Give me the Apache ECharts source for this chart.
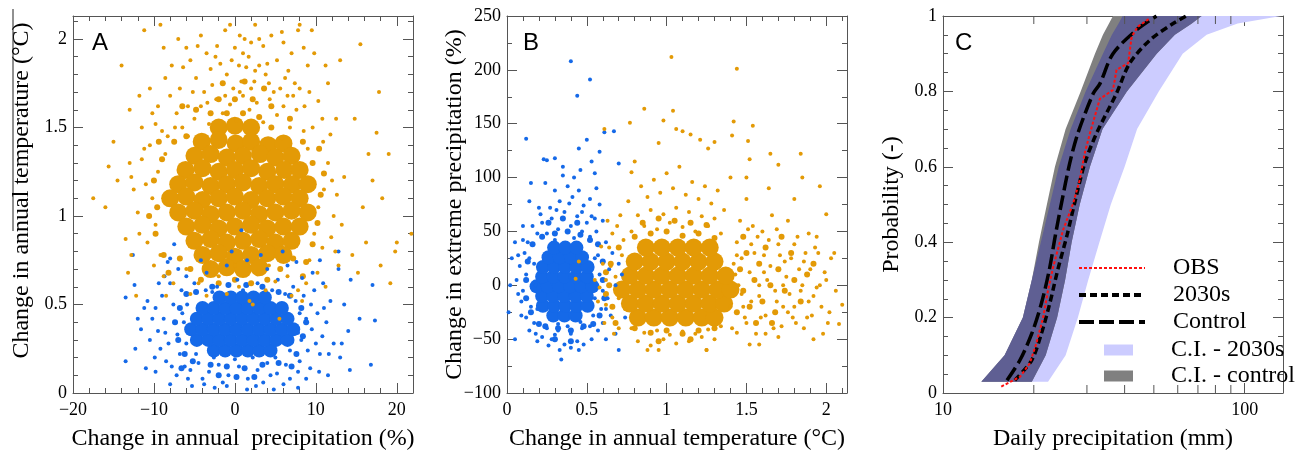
<!DOCTYPE html>
<html>
<head>
<meta charset="utf-8">
<script src="https://cdn.jsdelivr.net/npm/echarts@6/dist/echarts.min.js"></script>
<style>
  html, body { margin: 0; padding: 0; background: #fff; }
  #chart { width: 1301px; height: 452px; }
</style>
</head>
<body>
<div id="chart"></div>
<script>
// ---- panel A: precipitation change (%) vs temperature change (°C) ----
const aBlueCore = [
  [-2.6,0.24],[-1.2,0.24],[0.2,0.24],[1.6,0.24],[3.0,0.24],[4.4,0.24],
  [-4.7,0.30],[-3.3,0.30],[-1.9,0.30],[-0.5,0.30],[0.9,0.30],[2.3,0.30],[3.7,0.30],[5.1,0.30],[6.5,0.30],
  [-5.4,0.36],[-4.0,0.36],[-2.6,0.36],[-1.2,0.36],[0.2,0.36],[1.6,0.36],[3.0,0.36],[4.4,0.36],[5.8,0.36],[7.2,0.36],
  [-4.7,0.42],[-3.3,0.42],[-1.9,0.42],[-0.5,0.42],[0.9,0.42],[2.3,0.42],[3.7,0.42],[5.1,0.42],[6.5,0.42],
  [-4.0,0.48],[-2.6,0.48],[-1.2,0.48],[0.2,0.48],[1.6,0.48],[3.0,0.48],[4.4,0.48],[5.8,0.48],
  [-1.9,0.54],[-0.5,0.54],[0.9,0.54],[2.3,0.54],[3.7,0.54]
];
const aBlueMid = [
  [-7.0,0.30],[-7.4,0.40],[-6.8,0.48],[-6.2,0.22],[8.4,0.32],[8.8,0.40],[8.2,0.48],[7.6,0.22],[-5.2,0.18],[-3.0,0.16],
  [-1.0,0.15],[1.2,0.14],[3.4,0.16],[5.4,0.17],[-4.8,0.57],[-2.8,0.60],[-0.8,0.61],[1.4,0.61],[3.4,0.60],[5.4,0.57],
  [6.8,0.55],[-6.0,0.56],[7.0,0.15],[-6.6,0.14],[0.2,0.09],[-2.0,0.10],[2.4,0.09]
];
const aBlueDots = [
  [-9.5,0.35],[-8.8,0.42],[-8.2,0.28],[-7.6,0.50],[-7.1,0.33],[-6.8,0.22],[-9.0,0.55],[-8.0,0.62],[-7.3,0.40],[-6.6,0.58],
  [-9.8,0.48],[-8.5,0.18],[-7.8,0.15],[-6.5,0.45],[-7.0,0.70],[-10.5,0.30],[-10.2,0.42],[-6.2,0.15],[-8.7,0.66],
  [8.2,0.30],[8.8,0.42],[9.5,0.36],[9.0,0.24],[10.2,0.45],[8.5,0.55],[9.8,0.58],[10.8,0.32],[11.3,0.40],[8.0,0.18],
  [9.3,0.14],[10.5,0.22],[11.8,0.52],[8.3,0.65],[9.6,0.68],[10.9,0.62],[12.2,0.28],[7.8,0.12],
  [-4.5,0.17],[-3.2,0.12],[-2.0,0.16],[-0.8,0.10],[0.5,0.15],[1.6,0.08],[2.8,0.13],[4.0,0.17],[5.2,0.11],[6.3,0.16],
  [-5.5,0.13],[-1.5,0.06],[3.5,0.06],[6.8,0.08],[0.0,0.19],[-2.6,0.20],[2.2,0.20],[5.0,0.20],[-4.0,0.08],
  [-5.0,0.62],[-3.5,0.68],[-2.2,0.60],[-1.0,0.72],[0.3,0.64],[1.5,0.75],[2.8,0.62],[4.0,0.70],[5.3,0.64],[6.5,0.72],
  [7.2,0.60],[-4.2,0.75],[-0.4,0.80],[3.2,0.78],[5.9,0.80],[-6.0,0.66],[1.0,0.58],[-2.8,0.57],[4.6,0.58],
  [-6.0,0.28],[-6.3,0.40],[-5.9,0.50],[7.8,0.34],[8.0,0.45],[7.5,0.52],[6.8,0.24],[-4.8,0.22],[-3.6,0.58],[6.2,0.56],
  [-9.2,0.25],[-8.6,0.34],[-9.9,0.20],[-10.8,0.52],[-9.4,0.62],[9.4,0.50],[10.0,0.28],[11.0,0.48],[10.4,0.12],[11.6,0.22],
  [-7.2,0.10],[-5.8,0.08],[4.4,0.10],[6.0,0.05],[8.8,0.08],[-3.8,0.05],[2.6,0.04],[-1.0,0.04],[-8.0,0.76],[7.6,0.74],
  [-13.5,0.54],[-13.5,0.18],[-12.3,0.25],[-12.4,0.61],[-12.6,0.78],[-11.6,0.36],[-11.2,0.48],[-11.0,0.14],[-12.0,0.42],
  [17.0,0.61],[17.3,0.41],[16.8,0.16],[14.2,0.13],[15.4,0.42],[14.3,0.64],[13.5,0.50],[13.2,0.28],[14.0,0.35],
  [12.8,0.70],[13.0,0.20],[1.5,0.02],[-2.5,0.03],[7.8,0.03],[-8.0,0.05],[4.8,0.02],[-5.3,0.04],[11.5,0.10],
  [-9.8,0.12],[12.8,0.80],[-8.3,0.74],[-7.5,0.84],[0.8,0.92],[10.5,0.75]
];
const aOrangeCore = [
  [-2.0,1.50],[0.0,1.51],[2.0,1.50],
  [-4.1,1.42],[-2.0,1.43],[0.1,1.41],[2.0,1.42],[4.1,1.40],[6.0,1.41],
  [-5.0,1.34],[-3.0,1.35],[-1.0,1.33],[1.0,1.34],[3.1,1.35],[5.0,1.33],[7.0,1.34],
  [-6.1,1.26],[-4.0,1.27],[-2.0,1.25],[0.0,1.26],[2.0,1.27],[4.0,1.25],[6.1,1.26],[8.0,1.26],
  [-7.0,1.18],[-5.0,1.19],[-3.0,1.17],[-1.0,1.18],[1.0,1.19],[3.0,1.17],[5.0,1.18],[7.1,1.18],[9.0,1.18],
  [-8.0,1.10],[-6.0,1.11],[-4.0,1.09],[-2.0,1.10],[0.0,1.11],[2.0,1.09],[4.0,1.10],[6.0,1.11],[8.0,1.10],
  [-7.0,1.02],[-5.0,1.03],[-3.0,1.01],[-1.0,1.02],[1.0,1.03],[3.0,1.01],[5.0,1.02],[7.0,1.03],[9.0,1.02],
  [-6.0,0.94],[-4.0,0.95],[-2.0,0.93],[0.0,0.94],[2.0,0.95],[4.0,0.93],[6.0,0.94],[8.0,0.94],
  [-5.0,0.86],[-3.0,0.87],[-1.0,0.85],[1.0,0.86],[3.0,0.87],[5.0,0.85],[7.0,0.86],
  [-4.0,0.78],[-2.0,0.79],[0.0,0.77],[2.0,0.78],[4.0,0.79],[6.0,0.78],
  [-3.0,0.70],[-1.0,0.71],[1.0,0.70],[3.0,0.71]
];
const aOrangeMid = [
  [-10.0,1.20],[-9.6,1.05],[-9.8,0.90],[-9.0,1.32],[-8.8,0.78],[-10.6,1.00],[-8.2,0.68],[-7.5,1.42],[-9.4,1.42],
  [10.6,1.12],[10.2,0.96],[9.6,0.84],[9.6,1.30],[8.8,0.74],[11.0,1.24],[8.4,0.66],[8.4,1.42],[10.4,1.38],
  [-6.0,1.45],[-3.0,1.58],[-1.0,1.58],[1.0,1.58],[3.0,1.56],[4.5,1.50],[-4.8,1.60],[-2.0,1.66],[0.0,1.66],[2.2,1.66],
  [4.5,1.62],[6.8,1.55],[-6.5,1.62],[1.2,1.76],[-1.5,1.75],[3.6,1.72],
  [-5.5,0.70],[-4.2,0.64],[-2.0,0.62],[0.0,0.64],[2.0,0.62],[4.0,0.64],[5.6,0.70],[7.2,0.76],[-6.8,0.76]
];
const aOrangeDots = [
  [-9.5,1.25],[-10.2,1.10],[-9.8,0.95],[-11.0,1.18],[-10.8,0.85],[-9.2,0.78],[-8.6,1.35],[-11.5,1.32],[-12.0,1.02],[-8.8,0.66],
  [-10.0,0.72],[-9.0,1.48],[-11.8,0.90],[-12.5,1.15],[-8.3,1.45],[-13.0,1.30],[-10.5,1.40],[-12.8,0.78],[-7.6,0.62],[-8.5,0.55],
  [9.5,1.20],[10.3,1.05],[9.8,0.90],[11.0,1.15],[10.8,0.82],[9.2,0.75],[9.0,1.38],[11.5,1.30],[12.2,1.00],[8.8,0.62],
  [10.2,0.68],[9.6,1.50],[11.9,0.88],[12.6,1.12],[8.5,1.48],[13.2,0.95],[10.9,1.42],[12.8,0.72],[7.8,0.58],[8.3,0.52],[13.5,1.22],[11.2,0.60],
  [-6.5,1.50],[-5.0,1.55],[-3.2,1.52],[-1.5,1.58],[0.2,1.54],[1.8,1.60],[3.5,1.53],[5.2,1.57],[6.8,1.50],[-7.2,1.58],
  [-4.2,1.62],[-2.3,1.66],[-0.6,1.63],[1.0,1.68],[2.7,1.64],[4.3,1.66],[6.0,1.62],[7.6,1.60],[-5.8,1.45],[5.8,1.44],
  [-6.8,1.72],[-4.8,1.78],[-2.8,1.74],[-1.0,1.80],[0.8,1.76],[2.5,1.82],[4.2,1.75],[6.2,1.78],[8.0,1.72],[-5.5,1.88],
  [-3.5,1.92],[-1.8,1.86],[0.0,1.95],[1.7,1.90],[3.5,1.96],[5.2,1.88],[7.0,1.92],[9.0,1.85],[-7.8,1.85],[-4.2,2.02],
  [-1.2,2.05],[1.2,2.00],[2.5,2.08],[4.5,2.02],[7.8,2.05],[-8.8,1.95],[-10.5,1.72],[10.3,1.65],[-9.5,1.62],[11.5,1.75],
  [0.5,1.85],[-3.0,1.83],[3.0,1.85],[6.5,1.68],[-6.0,1.95],[8.5,1.95],[2.0,1.72],[-0.2,1.72],
  [-8.0,1.68],[-5.2,1.70],[-3.8,1.70],[-0.4,1.88],[1.4,1.84],[4.0,1.86],[5.6,1.72],[7.2,1.68],[9.2,1.70],[-2.2,1.96],
  [0.6,2.02],[3.0,2.00],[6.0,1.98],[-7.0,2.00],[-9.8,1.52],[-11.2,1.38],[11.8,1.46],[12.0,1.20],[-12.8,1.22],[12.4,0.80],
  [-5.8,1.62],[-3.4,1.64],[-1.2,1.68],[0.6,1.70],[2.4,1.76],[4.8,1.70],[6.6,1.82],[8.6,1.62],[-7.4,1.50],[-8.6,1.78],
  [-6.4,1.84],[-2.4,1.90],[1.0,1.92],[3.8,1.80],[5.8,2.04],[-4.6,1.96],[-0.6,2.08],[2.0,1.98],[7.4,1.75],[9.8,1.92],
  [10.8,1.55],[-10.2,1.58],[-11.8,1.68],[11.2,1.85],[-9.2,2.08],
  [-11.2,2.05],[-14.0,1.85],[-15.0,1.42],[-16.0,1.05],[-17.5,1.10],[-13.5,0.87],[-12.2,0.55],[-13.0,1.60],[-14.5,1.20],
  [-15.6,1.28],[-11.5,1.50],[15.5,1.97],[17.8,1.70],[17.5,1.47],[16.5,1.35],[19.0,1.35],[18.2,1.10],[17.0,1.20],
  [19.8,0.80],[19.2,0.62],[18.0,0.72],[20.0,0.85],[21.8,0.90],[14.5,0.78],[15.8,1.05],[16.2,0.85],[14.8,1.55],
  [13.0,1.88],[12.5,1.55],[15.2,0.68],[9.5,2.05],[8.0,2.08],[-13.2,0.68],
  [-4.5,0.62],[-2.0,0.66],[0.5,0.60],[2.8,0.67],[5.0,0.63],[6.5,0.66],[-6.0,0.70],[-1.0,0.56],[1.8,0.52],[3.8,0.58],
  [5.5,0.42],[2.2,0.50],[-3.5,0.55],[7.0,0.55],[-5.5,0.56],[0.0,0.72],[4.2,0.72],[-2.8,0.72]
];

// ---- panel B: temperature change (°C) vs extreme precipitation change (%) ----
const bBlueCore = [
  [0.29,-28],[0.36,-28],[0.43,-28],
  [0.225,-19],[0.295,-19],[0.365,-19],[0.435,-19],[0.505,-19],
  [0.22,-10],[0.29,-10],[0.36,-10],[0.43,-10],[0.50,-10],
  [0.185,-1],[0.255,-1],[0.325,-1],[0.395,-1],[0.465,-1],[0.535,-1],
  [0.22,8],[0.29,8],[0.36,8],[0.43,8],[0.50,8],
  [0.225,17],[0.295,17],[0.365,17],[0.435,17],[0.505,17],
  [0.26,26],[0.33,26],[0.40,26],[0.47,26],
  [0.295,35],[0.365,35],[0.435,35]
];
const bBlueMid = [
  [0.12,5],[0.12,-12],[0.13,22],[0.15,-25],[0.16,38],[0.60,5],[0.61,-12],[0.60,22],[0.58,-28],[0.57,38],
  [0.22,45],[0.30,48],[0.38,50],[0.46,47],[0.52,42],[0.26,58],[0.35,62],[0.44,58],[0.24,-38],[0.32,-40],
  [0.40,-42],[0.48,-38],[0.30,-50],[0.40,-52],[0.20,-36],[0.54,-36]
];
const bBlueDots = [
  [0.12,10],[0.10,-5],[0.14,25],[0.15,-20],[0.13,40],[0.17,-35],[0.08,18],[0.09,-15],[0.16,55],[0.18,-45],
  [0.11,30],[0.06,5],[0.12,-30],[0.19,48],[0.07,-8],
  [0.58,10],[0.60,-5],[0.57,28],[0.59,-22],[0.62,40],[0.60,-35],[0.64,15],[0.63,-12],[0.56,50],[0.57,-42],
  [0.66,30],[0.68,0],[0.65,-28],[0.70,20],[0.55,62],[0.68,-45],
  [0.25,48],[0.32,52],[0.40,55],[0.47,50],[0.52,45],[0.28,62],[0.36,68],[0.44,64],[0.50,58],[0.22,58],
  [0.33,78],[0.41,82],[0.48,74],[0.27,72],[0.38,92],[0.45,88],[0.30,88],[0.52,80],[0.24,95],[0.35,102],
  [0.56,90],[0.20,72],[0.42,100],[0.58,75],
  [0.25,-40],[0.32,-42],[0.40,-45],[0.47,-40],[0.52,-38],[0.28,-50],[0.36,-55],[0.44,-52],[0.22,-48],[0.33,-60],
  [0.40,-58],[0.48,-55],[0.30,-46],[0.53,-50],[0.38,-38],[0.45,-60],[0.26,-56],
  [0.18,0],[0.17,20],[0.19,-22],[0.55,-12],[0.55,25],[0.54,-28],[0.30,42],[0.42,44],[0.32,-36],[0.46,-34],
  [0.09,-28],[0.10,42],[0.07,28],[0.14,-42],[0.21,66],[0.31,70],[0.39,76],[0.47,68],[0.53,64],[0.62,-22],
  [0.40,208],[0.52,191],[0.44,176],[0.12,136],[0.50,135],[0.45,127],[0.61,142],[0.67,143],[0.58,124],[0.53,115],
  [0.30,118],[0.23,117],[0.25,116],[0.70,113],[0.02,0],[0.01,-25],[0.05,-50],[0.34,-69],[0.10,55],[0.03,25],
  [0.35,110],[0.46,107],[0.14,78],[0.55,104],[0.62,-50],[0.70,-60],[0.74,-30],[0.72,10],[0.19,-52],[0.05,40],
  [0.15,95],[0.60,60]
];
const bOrangeCore = [
  [0.82,-30],[0.92,-30],[1.02,-30],[1.12,-30],[1.22,-30],[1.30,-30],
  [0.77,-17],[0.87,-17],[0.97,-17],[1.07,-17],[1.17,-17],[1.27,-17],[1.36,-17],
  [0.72,-4],[0.82,-4],[0.92,-4],[1.02,-4],[1.12,-4],[1.22,-4],[1.32,-4],[1.40,-4],
  [0.77,9],[0.87,9],[0.97,9],[1.07,9],[1.17,9],[1.27,9],[1.37,9],
  [0.80,22],[0.90,22],[1.00,22],[1.10,22],[1.20,22],[1.30,22],
  [0.87,35],[0.97,35],[1.07,35],[1.17,35],[1.27,35]
];
const bOrangeMid = [
  [0.66,-20],[0.64,0],[0.65,20],[0.68,-35],[0.70,35],[0.62,-8],[0.62,12],
  [0.80,45],[0.90,48],[1.00,50],[1.10,46],[1.20,48],[1.30,44],[0.85,58],[0.95,62],[1.05,60],[1.15,58],[1.25,56],
  [0.80,-40],[0.90,-44],[1.00,-42],[1.10,-45],[1.20,-42],[1.30,-40],[0.95,-52],[1.15,-50],
  [1.44,-25],[1.46,15],[1.48,-5],[1.50,30],[1.52,-20],[1.55,5],[1.58,20],[1.60,-15],[1.62,35],[1.65,0],
  [1.68,-25],[1.70,15],[1.74,-5],[1.78,30],[1.80,5],[1.84,-15],[1.88,10],[1.48,45],[1.56,-35],[1.66,-35],
  [1.92,20],[1.72,45]
];
const bOrangeDots = [
  [0.58,-2],[0.60,20],[0.62,-18],[0.64,35],[0.66,-30],[0.68,8],[0.70,-12],[0.72,28],[0.62,5],[0.66,48],
  [0.70,-40],[0.74,-22],[0.57,-15],[0.65,18],[0.69,55],[0.73,42],[0.61,-35],[0.67,-45],[0.71,65],[0.63,60],
  [0.55,5],[0.59,36],[0.45,22],[0.43,6],
  [0.78,50],[0.86,55],[0.94,52],[1.02,58],[1.10,54],[1.18,50],[1.26,55],[1.34,48],[0.82,65],[0.90,70],
  [0.98,66],[1.06,72],[1.14,68],[1.22,64],[1.30,62],[0.76,78],[0.88,82],[0.96,86],[1.04,90],[1.12,84],
  [1.20,80],[1.28,76],[1.36,70],[0.92,98],[1.00,104],[1.08,110],[1.16,96],[1.24,92],[0.84,92],[1.32,88],
  [0.78,-40],[0.86,-44],[0.94,-42],[1.02,-46],[1.10,-43],[1.18,-45],[1.26,-41],[1.34,-38],[0.82,-52],[0.90,-56],
  [0.98,-50],[1.06,-54],[1.14,-52],[1.22,-48],[1.30,-50],[0.88,-60],[0.95,-60],[1.25,-60],[1.44,-44],
  [1.42,20],[1.45,0],[1.48,-20],[1.44,40],[1.50,-35],[1.52,12],[1.55,30],[1.58,-10],[1.60,50],[1.62,-28],
  [1.65,18],[1.68,-5],[1.70,38],[1.72,-38],[1.75,8],[1.78,25],[1.80,-20],[1.82,45],[1.85,0],[1.88,-30],
  [1.90,15],[1.92,-10],[1.95,30],[1.98,-45],[2.00,5],[2.03,25],[1.46,60],[1.56,-45],[1.66,65],[1.76,60],
  [1.86,-40],[1.94,45],[1.50,80],[1.64,90],[1.40,-20],[1.43,10],[1.53,-15],[1.63,5],[1.73,-20],[1.83,15],
  [1.47,25],[1.57,45],[1.67,-40],[1.77,-8],[1.87,30],[1.97,-20],[2.06,-5],[1.41,-40],[1.61,28],[1.81,-35],
  [1.54,55],[1.70,-48],[1.91,-28],[1.99,12],[1.79,-30],[1.59,-30],[1.69,52],[1.89,48],[1.74,22],[1.94,-2],
  [1.44,28],[1.49,-30],[1.51,52],[1.58,0],[1.62,-45],[1.64,42],[1.69,-15],[1.71,28],[1.76,-25],[1.80,38],
  [1.84,-5],[1.89,-15],[1.93,35],[1.96,0],[2.01,-35],[1.47,-8],[1.53,38],[1.61,12],[1.73,0],[1.86,22],
  [1.03,212],[1.44,201],[0.86,164],[1.04,162],[0.98,153],[1.42,152],[1.54,148],[0.77,151],[0.61,145],[1.15,140],
  [1.06,145],[1.10,143],[1.21,135],[1.30,133],[1.26,127],[0.95,132],[1.41,139],[1.51,134],[1.52,117],[1.65,122],
  [1.84,122],[1.70,112],[1.96,92],[2.00,66],[2.05,30],[2.10,-18],[2.08,-36],[1.92,-50],[1.58,-55],[1.25,-60],
  [1.80,80],[1.85,100],[1.50,100],[0.80,115],[0.78,105],[2.02,-25],[1.52,-55],[1.40,100]
];

// ---- panel C: cumulative probability of daily precipitation (mm) ----
const cLevels  = [0.03, 0.1, 0.2, 0.3, 0.4, 0.5, 0.6, 0.7, 0.8, 0.9, 0.95, 0.98, 1.0];
const ctlLeft  = [13.4, 16.0, 18.4, 19.7, 20.8, 22.1, 23.5, 25.5, 28.6, 31.9, 33.9, 35.5, 36.6];
const ctlRight = [19.7, 21.9, 23.9, 25.4, 26.7, 28.4, 30.7, 33.8, 40.7, 51.1, 58.7, 66.8, 72.0];
const lavLeft  = [13.4, 16.0, 18.4, 19.7, 21.1, 22.6, 24.2, 26.5, 29.7, 33.9, 36.3, 38.2, 39.4];
const lavRight = [22.3, 25.5, 28.0, 30.3, 33.0, 36.0, 40.0, 44.0, 51.9, 62.3, 74.8, 94.8, 132.0];

const obsX  = [15.6, 18.0, 19.4, 20.4, 21.5, 22.3, 23.2, 25.0, 27.0, 28.4, 29.5, 30.7, 33.1, 36.6, 37.6, 41.1, 42.2, 44.3, 48.5];
const obsP  = [0.017, 0.043, 0.079, 0.132, 0.202, 0.273, 0.335, 0.432, 0.503, 0.565, 0.636, 0.689, 0.78, 0.804, 0.857, 0.875, 0.945, 0.972, 0.994];
const s2030X = [17.3, 19.7, 21.2, 22.6, 24.0, 25.8, 27.3, 29.5, 32.3, 37.6, 41.6, 48.5, 57.9, 64.1];
const s2030P = [0.034, 0.0875, 0.158, 0.238, 0.326, 0.42, 0.503, 0.609, 0.689, 0.795, 0.875, 0.936, 0.98, 1.0];
const ctlX  = [16.3, 18.0, 19.7, 21.2, 22.5, 23.6, 24.7, 26.3, 28.0, 31.5, 33.1, 36.6, 43.8, 51.0];
const ctlP  = [0.034, 0.0875, 0.158, 0.238, 0.326, 0.42, 0.503, 0.609, 0.689, 0.795, 0.82, 0.90, 0.963, 1.0];
const cMinorTicks = [20, 30, 40, 50, 60, 70, 80, 90];

const BLUE = '#1569e8';
const ORANGE = '#e39a06';
const SERIF = 'Liberation Serif';
const FRAME = '#555';

const chart = echarts.init(document.getElementById('chart'));

const minus = v => String(v).replace('-', '\u2212');

function frameAxis(extra, labelled, showMax) {
  return Object.assign({
    axisLine: { show: true, onZero: false, lineStyle: { color: FRAME, width: 1 } },
    axisTick: { show: true, inside: true, length: 10, lineStyle: { color: FRAME } },
    splitLine: { show: false },
    axisLabel: labelled ? {
      show: true, color: '#000', fontFamily: SERIF, fontSize: 18, formatter: minus,
      margin: 6, showMaxLabel: !!showMax
    } : { show: false },
    nameMoveOverlap: false,
    nameTextStyle: { color: '#000', fontFamily: SERIF, fontSize: 24 }
  }, extra);
}

function minor(n) {
  return { show: true, splitNumber: n, length: 5, lineStyle: { color: FRAME } };
}

function pairs(xs, ps) { return xs.map((x, i) => [x, ps[i]]); }

function band(left, right, color) {
  return function (params, api) {
    const pts = [];
    for (let i = 0; i < cLevels.length; i++) pts.push(api.coord([left[i], cLevels[i]]));
    for (let i = cLevels.length - 1; i >= 0; i--) pts.push(api.coord([right[i], cLevels[i]]));
    return { type: 'polygon', shape: { points: pts }, style: { fill: color } };
  };
}

function scatter(idx, data, size, color) {
  return { type: 'scatter', xAxisIndex: idx, yAxisIndex: idx, data: data, symbolSize: size,
           itemStyle: { color: color, opacity: 1 }, silent: true };
}

const letter = { fontSize: 24, fontWeight: 'normal', fontFamily: 'Liberation Sans', color: '#000' };
const xLabel = { color: '#000', fontFamily: SERIF, fontSize: 18, formatter: minus, margin: 8, showMaxLabel: false };

const option = {
  animation: false,
  backgroundColor: '#fff',
  title: [
    { text: 'A', left: 87, top: 26, textStyle: letter },
    { text: 'B', left: 518, top: 26, textStyle: letter },
    { text: 'C', left: 950, top: 26, textStyle: letter }
  ],
  grid: [
    { left: 73, top: 16, width: 340, height: 377, outerBoundsMode: 'none', containLabel: false },
    { left: 507, top: 16, width: 340, height: 377, outerBoundsMode: 'none', containLabel: false },
    { left: 943, top: 16, width: 340, height: 377, outerBoundsMode: 'none', containLabel: false }
  ],
  xAxis: [
    frameAxis({ gridIndex: 0, type: 'value', min: -20, max: 22, interval: 10, minorTick: minor(5), axisLabel: xLabel,
      name: 'Change in annual  precipitation (%)', nameLocation: 'middle', nameGap: 34 }, true),
    frameAxis({ gridIndex: 0, type: 'value', position: 'top', min: -20, max: 22, interval: 10, minorTick: minor(5) }, false),
    frameAxis({ gridIndex: 1, type: 'value', min: 0, max: 2.13, interval: 0.5, minorTick: minor(5), axisLabel: xLabel,
      name: 'Change in annual temperature (\u00B0C)', nameLocation: 'middle', nameGap: 34 }, true),
    frameAxis({ gridIndex: 1, type: 'value', position: 'top', min: 0, max: 2.13, interval: 0.5, minorTick: minor(5) }, false),
    frameAxis({ gridIndex: 2, type: 'log', logBase: 10, min: 10, max: 134, axisLabel: xLabel,
      name: 'Daily precipitation (mm)', nameLocation: 'middle', nameGap: 34 }, true),
    frameAxis({ gridIndex: 2, type: 'log', logBase: 10, position: 'top', min: 10, max: 134 }, false)
  ],
  yAxis: [
    frameAxis({ gridIndex: 0, type: 'value', min: 0, max: 2.13, interval: 0.5, minorTick: minor(5),
      name: 'Change in annual temperature (\u00B0C)', nameLocation: 'middle', nameGap: 39,
      nameTextStyle: { color: '#000', fontFamily: SERIF, fontSize: 24, padding: [0, 0, 0, 28] } }, true, false),
    frameAxis({ gridIndex: 0, type: 'value', position: 'right', min: 0, max: 2.13, interval: 0.5, minorTick: minor(5) }, false),
    frameAxis({ gridIndex: 1, type: 'value', min: -100, max: 250, interval: 50, minorTick: minor(2),
      name: 'Change in extreme precipitation (%)', nameLocation: 'middle', nameGap: 40 }, true, true),
    frameAxis({ gridIndex: 1, type: 'value', position: 'right', min: -100, max: 250, interval: 50, minorTick: minor(2) }, false),
    frameAxis({ gridIndex: 2, type: 'value', min: 0, max: 1, interval: 0.2, minorTick: minor(4),
      name: 'Probability (-)', nameLocation: 'middle', nameGap: 39 }, true, true),
    frameAxis({ gridIndex: 2, type: 'value', position: 'right', min: 0, max: 1, interval: 0.2, minorTick: minor(4) }, false)
  ],
  legend: [
    { data: [
        { name: 'OBS', lineStyle: { width: 2 } },
        { name: '2030s', lineStyle: { width: 4 } },
        { name: 'Control', lineStyle: { width: 4 } }
      ],
      orient: 'vertical', left: 1077, top: 256, padding: 0,
      itemWidth: 66, itemHeight: 14, itemGap: 3, itemStyle: { opacity: 0 },
      textStyle: { color: '#000', fontFamily: SERIF, fontSize: 24, lineHeight: 22, padding: [0, 0, 0, 23] } },
    { data: [{ name: 'C.I. - 2030s', icon: 'rect' }, { name: 'C.I. - control', icon: 'rect' }],
      orient: 'vertical', left: 1104, top: 338, padding: 0, itemWidth: 29, itemHeight: 11, itemGap: 2,
      textStyle: { color: '#000', fontFamily: SERIF, fontSize: 24, lineHeight: 22, padding: [0, 0, 0, 33] } }
  ],
  graphic: [
    { type: 'line', shape: { x1: 13, y1: 9, x2: 13, y2: 231 }, style: { stroke: '#222', lineWidth: 1 } }
  ],
  series: [
    scatter(0, aBlueCore, 14, BLUE),
    scatter(0, aOrangeCore, 18, ORANGE),
    scatter(0, aBlueMid, 6, BLUE),
    scatter(0, aOrangeMid, 6, ORANGE),
    scatter(0, aBlueDots, 4, BLUE),
    scatter(0, aOrangeDots, 4, ORANGE),

    scatter(2, bBlueCore, 14, BLUE),
    scatter(2, bOrangeCore, 18, ORANGE),
    scatter(2, bBlueMid, 6, BLUE),
    scatter(2, bOrangeMid, 6, ORANGE),
    scatter(2, bBlueDots, 4, BLUE),
    scatter(2, bOrangeDots, 4, ORANGE),

    { name: 'C.I. - 2030s', type: 'custom', xAxisIndex: 4, yAxisIndex: 4, silent: true,
      itemStyle: { color: '#ccccff' }, data: [[lavLeft[0], cLevels[0]]],
      renderItem: band(lavLeft, lavRight, '#ccccff') },
    { name: 'C.I. - control', type: 'custom', xAxisIndex: 4, yAxisIndex: 4, silent: true,
      itemStyle: { color: '#808080' }, data: [[ctlLeft[0], cLevels[0]]],
      renderItem: band(ctlLeft, ctlRight, '#808080') },
    { name: 'overlap', type: 'custom', xAxisIndex: 4, yAxisIndex: 4, silent: true,
      data: [[lavLeft[0], cLevels[0]]],
      renderItem: band(lavLeft, ctlRight, '#5f5f93') },
    { name: 'ticks', type: 'custom', xAxisIndex: 4, yAxisIndex: 4, silent: true,
      data: cMinorTicks.map(v => [v, 0]),
      renderItem: function (params, api) {
        const b = api.coord([api.value(0), 0]);
        const t = api.coord([api.value(0), 1]);
        return { type: 'group', children: [
          { type: 'line', shape: { x1: b[0], y1: b[1], x2: b[0], y2: b[1] - 8 }, style: { stroke: FRAME, lineWidth: 1 } },
          { type: 'line', shape: { x1: t[0], y1: t[1], x2: t[0], y2: t[1] + 8 }, style: { stroke: FRAME, lineWidth: 1 } }
        ] };
      } },

    { name: 'Control', type: 'line', xAxisIndex: 4, yAxisIndex: 4, data: pairs(ctlX, ctlP),
      symbol: 'none', smooth: 0.3, lineStyle: { color: '#000', width: 3.5, type: [15, 5] }, itemStyle: { color: '#000' } },
    { name: '2030s', type: 'line', xAxisIndex: 4, yAxisIndex: 4, data: pairs(s2030X, s2030P),
      symbol: 'none', smooth: 0.3, lineStyle: { color: '#000', width: 3.5, type: [7, 4] }, itemStyle: { color: '#000' } },
    { name: 'OBS', type: 'line', xAxisIndex: 4, yAxisIndex: 4, data: pairs(obsX, obsP),
      symbol: 'none', lineStyle: { color: '#ff1010', width: 2, type: [3, 2] }, itemStyle: { color: '#ff1010' } }
  ]
};

chart.setOption(option);
</script>
</body>
</html>
